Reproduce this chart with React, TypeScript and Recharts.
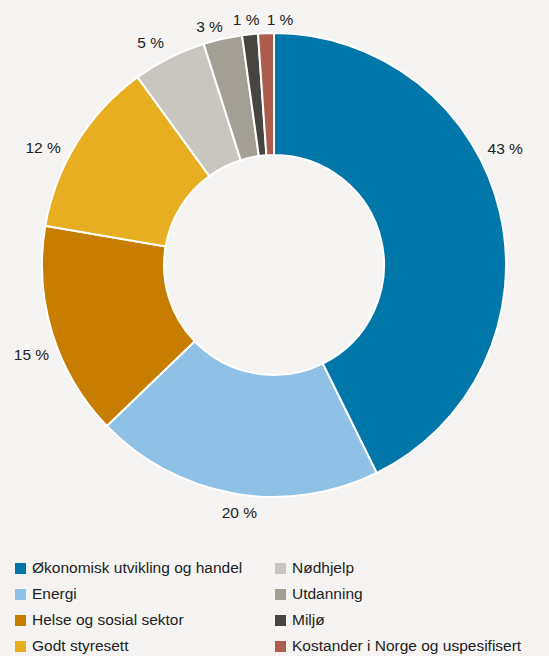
import React from 'react';
import { PieChart, Pie, Cell, Legend } from 'recharts';

const categories = [
    'Økonomisk utvikling og handel',
    'Energi',
    'Helse og sosial sektor',
    'Godt styresett',
    'Nødhjelp',
    'Utdanning',
    'Miljø',
    'Kostander i Norge og uspesifisert',
];
const shares = [42.7, 20.1, 14.9, 12.3, 5.1, 2.7, 1.1, 1.1];
const colors = ['#0077a8', '#8fc0e5', '#c77d00', '#e8ae21', '#c9c6bf', '#a49f94', '#47453f', '#ae5c4d'];

type Slice = { name: string; value: number };

const RAD = Math.PI / 180;
const FONT = 'Liberation Sans, Arial, sans-serif';

// hand placed labels in the original, small tweaks from the mid-angle spot
const labelNudge: [number, number][] = [
    [-22, -59], [10, -3], [6, 15], [-10, 17], [-6, 4], [-7, 9], [-1, 7], [15, 8],
];

function renderLabel(props: any) {
    const { cx, cy, midAngle, outerRadius, value, index } = props;
    const r = outerRadius + 22;
    const cos = Math.cos(-midAngle * RAD);
    const sin = Math.sin(-midAngle * RAD);
    const [dx, dy] = labelNudge[index] || [0, 0];
    const x = cx + r * cos + cos * 6 + dx;
    const y = cy + r * sin + dy;
    return (
        <text x={x} y={y} textAnchor="middle" dominantBaseline="central"
            fill="#222" fontSize={15.5} fontFamily={FONT}>
            {`${Math.round(value)} %`}
        </text>
    );
}

function LegendBox() {
    return (
        <div style={{ position: 'relative', width: 549, height: 100 }}>
            {categories.map((name, i) => {
                const col = i < 4 ? 0 : 1;
                const row = i % 4;
                return (
                    <div key={name} style={{
                        position: 'absolute', left: col === 0 ? 15 : 275, top: row * 26,
                        display: 'flex', alignItems: 'center', height: 20, whiteSpace: 'nowrap',
                        fontFamily: FONT, fontSize: 15.5, color: '#222'
                    }}>
                        <span style={{ width: 11, height: 11, background: colors[i], marginRight: 6, display: 'inline-block' }} />
                        {name}
                    </div>
                );
            })}
        </div>
    );
}

export default function App() {
    const data: Slice[] = categories.map((name, i) => ({ name, value: shares[i] }));
    return (
        <div style={{ position: 'absolute', left: 0, top: 0, width: 549, height: 656, background: '#f5f4f2' }}>
            <PieChart width={549} height={656} margin={{ top: 0, right: 0, bottom: 0, left: 0 }}>
                <Pie
                    data={data}
                    dataKey="value"
                    nameKey="name"
                    cx={274}
                    cy={265}
                    outerRadius={232}
                    innerRadius={110}
                    startAngle={90}
                    endAngle={-270}
                    stroke="#ffffff"
                    strokeWidth={2}
                    label={renderLabel}
                    labelLine={false}
                    isAnimationActive={false}
                >
                    {data.map((d, i) => <Cell key={d.name} fill={colors[i]} />)}
                </Pie>
                <Legend content={() => <LegendBox />} wrapperStyle={{ position: 'absolute', left: 0, top: 558, width: 549 }} />
            </PieChart>
        </div>
    );
}
